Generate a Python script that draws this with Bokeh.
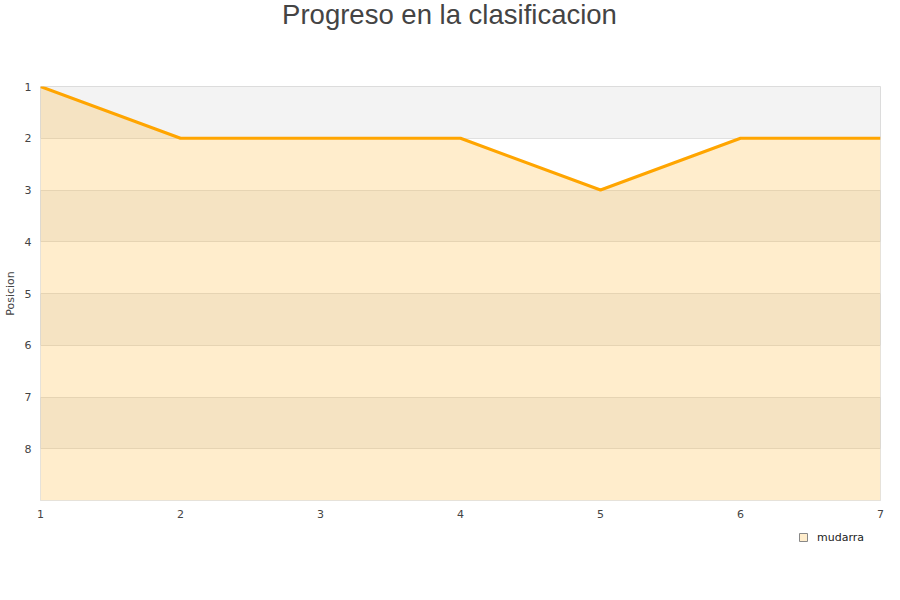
from bokeh.plotting import figure
from bokeh.models import Range1d, FixedTicker, Legend, LegendItem, Label
from bokeh.layouts import column
from bokeh.embed import file_html
from bokeh.resources import INLINE

# data
jornadas = [1, 2, 3, 4, 5, 6, 7]
posicion = [1, 2, 2, 2, 3, 2, 2]
team = "mudarra"
title_text = "Progreso en la clasificacion"
y_label = "Posicion"
y_ticks = [1, 2, 3, 4, 5, 6, 7, 8, 9]
x_ticks = [1, 2, 3, 4, 5, 6, 7]
worst = 9
nan = float("nan")


def strip(height):
    s = figure(width=892, height=height, output_backend="svg", toolbar_location=None,
               min_border=0, x_range=Range1d(0, 1), y_range=Range1d(0, 1),
               x_axis_type=None, y_axis_type=None)
    s.grid.visible = False
    s.outline_line_color = None
    s.background_fill_color = "white"
    s.border_fill_color = "white"
    return s


# title strip
t = strip(40)
t.add_layout(Label(x=409, y=26, x_units="screen", y_units="screen", text=title_text,
                   text_align="center", text_baseline="middle",
                   text_font="Liberation Sans", text_font_size="27.5px", text_color="#444444"))

p = figure(width=892, height=482, output_backend="svg", toolbar_location=None,
           x_range=Range1d(1, 7), y_range=Range1d(worst, 1),
           min_border_left=40, min_border_right=12, min_border_top=46, min_border_bottom=22)
p.background_fill_color = "#f3f3f3"
p.border_fill_color = "white"
p.outline_line_color = "#dcdcdc"
p.outline_line_width = 1

# axes
for ax in (p.xaxis, p.yaxis):
    ax.axis_line_color = None
    ax.major_tick_line_color = None
    ax.minor_tick_line_color = None
    ax.major_label_text_font = "DejaVu Sans"
    ax.major_label_text_font_size = "11px"
    ax.major_label_text_color = "#444444"
p.xaxis.ticker = FixedTicker(ticks=x_ticks)
p.yaxis.ticker = FixedTicker(ticks=y_ticks)
p.yaxis.major_label_overrides = {9: ""}
p.xaxis.major_label_standoff = 3
p.yaxis.major_label_standoff = 3
p.yaxis.axis_label = y_label
p.yaxis.axis_label_text_font = "DejaVu Sans"
p.yaxis.axis_label_text_font_size = "11px"
p.yaxis.axis_label_text_font_style = "normal"
p.yaxis.axis_label_text_color = "#444444"
p.yaxis.axis_label_standoff = 5

p.xgrid.grid_line_color = None
p.ygrid.grid_line_color = "#e0e0e0"
p.ygrid.band_fill_color = "white"
p.ygrid.band_fill_alpha = 1.0

p.varea(x=jornadas, y1=posicion, y2=[worst] * len(jornadas),
        fill_color="#ffa500", fill_alpha=0.2)
p.line(x=jornadas, y=posicion, line_color="#ffa500", line_width=3)

# legend strip below the chart (swatch renderer has no drawable geometry)
q = strip(40)
sw = q.quad(left=[nan], right=[nan], top=[nan], bottom=[nan],
            fill_color="#ffedcc", line_color="#888888")
legend = Legend(items=[LegendItem(label=team, renderers=[sw])], location=(758, 18),
                glyph_width=10, glyph_height=10, label_height=14, label_standoff=9,
                padding=0, margin=0, border_line_color=None, background_fill_alpha=0,
                label_text_font_size="11px", label_text_font="DejaVu Sans",
                label_text_color="#222222")
q.add_layout(legend, "center")

layout = column(t, p, q, spacing=0)
open("out.html", "w").write(file_html(layout, INLINE))
